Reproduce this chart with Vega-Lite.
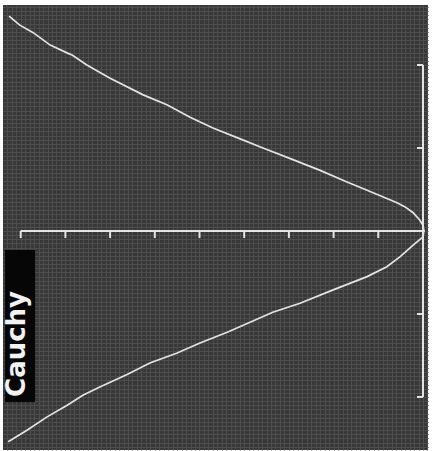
{
  "$schema": "https://vega.github.io/schema/vega-lite/v6.json",
  "width": 425,
  "height": 445,
  "padding": {"left": 3, "top": 5, "right": 9, "bottom": 1},
  "autosize": {"type": "none"},
  "background": "#ffffff",
  "config": {
    "view": {"fill": "#383838", "stroke": null},
    "axis": {"domain": false, "labels": false, "ticks": false, "title": null, "grid": true, "gridColor": "#4d4d4d", "gridWidth": 1},
    "axisX": {"tickCount": 100},
    "axisY": {"tickCount": 110}
  },
  "datasets": {
    "curve": [
      {"branch": "upper", "i": 1, "x": -9.26, "y": 2.59},
      {"branch": "upper", "i": 2, "x": -9.02, "y": 2.48},
      {"branch": "upper", "i": 3, "x": -8.72, "y": 2.39},
      {"branch": "upper", "i": 4, "x": -8.34, "y": 2.24},
      {"branch": "upper", "i": 5, "x": -7.94, "y": 2.14},
      {"branch": "upper", "i": 6, "x": -7.85, "y": 2.12},
      {"branch": "upper", "i": 7, "x": -7.52, "y": 2.0},
      {"branch": "upper", "i": 8, "x": -7.0, "y": 1.84},
      {"branch": "upper", "i": 9, "x": -6.26, "y": 1.64},
      {"branch": "upper", "i": 10, "x": -5.73, "y": 1.52},
      {"branch": "upper", "i": 11, "x": -5.21, "y": 1.37},
      {"branch": "upper", "i": 12, "x": -4.7, "y": 1.24},
      {"branch": "upper", "i": 13, "x": -4.09, "y": 1.11},
      {"branch": "upper", "i": 14, "x": -3.58, "y": 1.0},
      {"branch": "upper", "i": 15, "x": -2.91, "y": 0.86},
      {"branch": "upper", "i": 16, "x": -2.3, "y": 0.73},
      {"branch": "upper", "i": 17, "x": -1.7, "y": 0.59},
      {"branch": "upper", "i": 18, "x": -1.25, "y": 0.49},
      {"branch": "upper", "i": 19, "x": -0.89, "y": 0.41},
      {"branch": "upper", "i": 20, "x": -0.58, "y": 0.34},
      {"branch": "upper", "i": 21, "x": -0.4, "y": 0.29},
      {"branch": "upper", "i": 22, "x": -0.22, "y": 0.22},
      {"branch": "upper", "i": 23, "x": -0.07, "y": 0.13},
      {"branch": "upper", "i": 24, "x": 0.0, "y": 0.07},
      {"branch": "upper", "i": 25, "x": 0.02, "y": 0.0},
      {"branch": "lower", "i": 1, "x": 0.02, "y": 0.0},
      {"branch": "lower", "i": 2, "x": 0.0, "y": -0.07},
      {"branch": "lower", "i": 3, "x": -0.22, "y": -0.17},
      {"branch": "lower", "i": 4, "x": -0.51, "y": -0.31},
      {"branch": "lower", "i": 5, "x": -0.81, "y": -0.43},
      {"branch": "lower", "i": 6, "x": -1.25, "y": -0.55},
      {"branch": "lower", "i": 7, "x": -2.01, "y": -0.71},
      {"branch": "lower", "i": 8, "x": -2.75, "y": -0.87},
      {"branch": "lower", "i": 9, "x": -3.36, "y": -0.98},
      {"branch": "lower", "i": 10, "x": -3.87, "y": -1.1},
      {"branch": "lower", "i": 11, "x": -4.38, "y": -1.22},
      {"branch": "lower", "i": 12, "x": -4.99, "y": -1.35},
      {"branch": "lower", "i": 13, "x": -5.5, "y": -1.47},
      {"branch": "lower", "i": 14, "x": -6.11, "y": -1.59},
      {"branch": "lower", "i": 15, "x": -6.62, "y": -1.73},
      {"branch": "lower", "i": 16, "x": -7.23, "y": -1.88},
      {"branch": "lower", "i": 17, "x": -7.61, "y": -1.98},
      {"branch": "lower", "i": 18, "x": -7.96, "y": -2.1},
      {"branch": "lower", "i": 19, "x": -8.41, "y": -2.24},
      {"branch": "lower", "i": 20, "x": -8.86, "y": -2.4},
      {"branch": "lower", "i": 21, "x": -9.28, "y": -2.54}
    ],
    "xticks": [{"v": -9}, {"v": -8}, {"v": -7}, {"v": -6}, {"v": -5}, {"v": -4}, {"v": -3}, {"v": -2}, {"v": -1}],
    "yticks": [{"v": -2}, {"v": -1}, {"v": 1}, {"v": 2}]
  },
  "layer": [
    {
      "data": {"name": "curve"},
      "mark": {"type": "line", "color": "#e4e4e4", "strokeWidth": 1.7, "interpolate": "linear"},
      "encoding": {
        "x": {"field": "x", "type": "quantitative", "scale": {"domain": [-9.396, 0.112], "nice": false, "zero": false}},
        "y": {"field": "y", "type": "quantitative", "scale": {"domain": [-2.639, 2.723], "nice": false, "zero": false}},
        "detail": {"field": "branch"},
        "order": {"field": "i", "type": "quantitative"}
      }
    },
    {
      "data": {"values": [{}]},
      "mark": {"type": "rule", "color": "#e4e4e4", "strokeWidth": 2},
      "encoding": {
        "x": {"datum": -9, "type": "quantitative"},
        "x2": {"datum": 0.04},
        "y": {"datum": 0, "type": "quantitative"}
      }
    },
    {
      "data": {"values": [{}]},
      "mark": {"type": "rule", "color": "#e4e4e4", "strokeWidth": 2},
      "encoding": {
        "x": {"datum": 0, "type": "quantitative"},
        "y": {"datum": -2, "type": "quantitative"},
        "y2": {"datum": 2}
      }
    },
    {
      "data": {"name": "xticks"},
      "mark": {"type": "rule", "color": "#e4e4e4", "strokeWidth": 2},
      "encoding": {
        "x": {"field": "v", "type": "quantitative"},
        "y": {"datum": 0, "type": "quantitative"},
        "y2": {"datum": -0.085}
      }
    },
    {
      "data": {"name": "yticks"},
      "mark": {"type": "rule", "color": "#e4e4e4", "strokeWidth": 2},
      "encoding": {
        "y": {"field": "v", "type": "quantitative"},
        "x": {"datum": 0, "type": "quantitative"},
        "x2": {"datum": -0.134}
      }
    },
    {
      "data": {"values": [{}]},
      "mark": {"type": "rect", "color": "#060606"},
      "encoding": {
        "x": {"datum": -9.35, "type": "quantitative"},
        "x2": {"datum": -8.68},
        "y": {"datum": -0.229, "type": "quantitative"},
        "y2": {"datum": -2.06}
      }
    },
    {
      "data": {"values": [{"label": "Cauchy"}]},
      "mark": {"type": "text", "color": "#f2f2f2", "font": "DejaVu Sans", "fontWeight": "bold", "fontSize": 26, "angle": 270, "align": "center", "baseline": "alphabetic"},
      "encoding": {
        "x": {"datum": -8.904, "type": "quantitative"},
        "y": {"datum": -1.361, "type": "quantitative"},
        "text": {"field": "label"}
      }
    }
  ]
}
